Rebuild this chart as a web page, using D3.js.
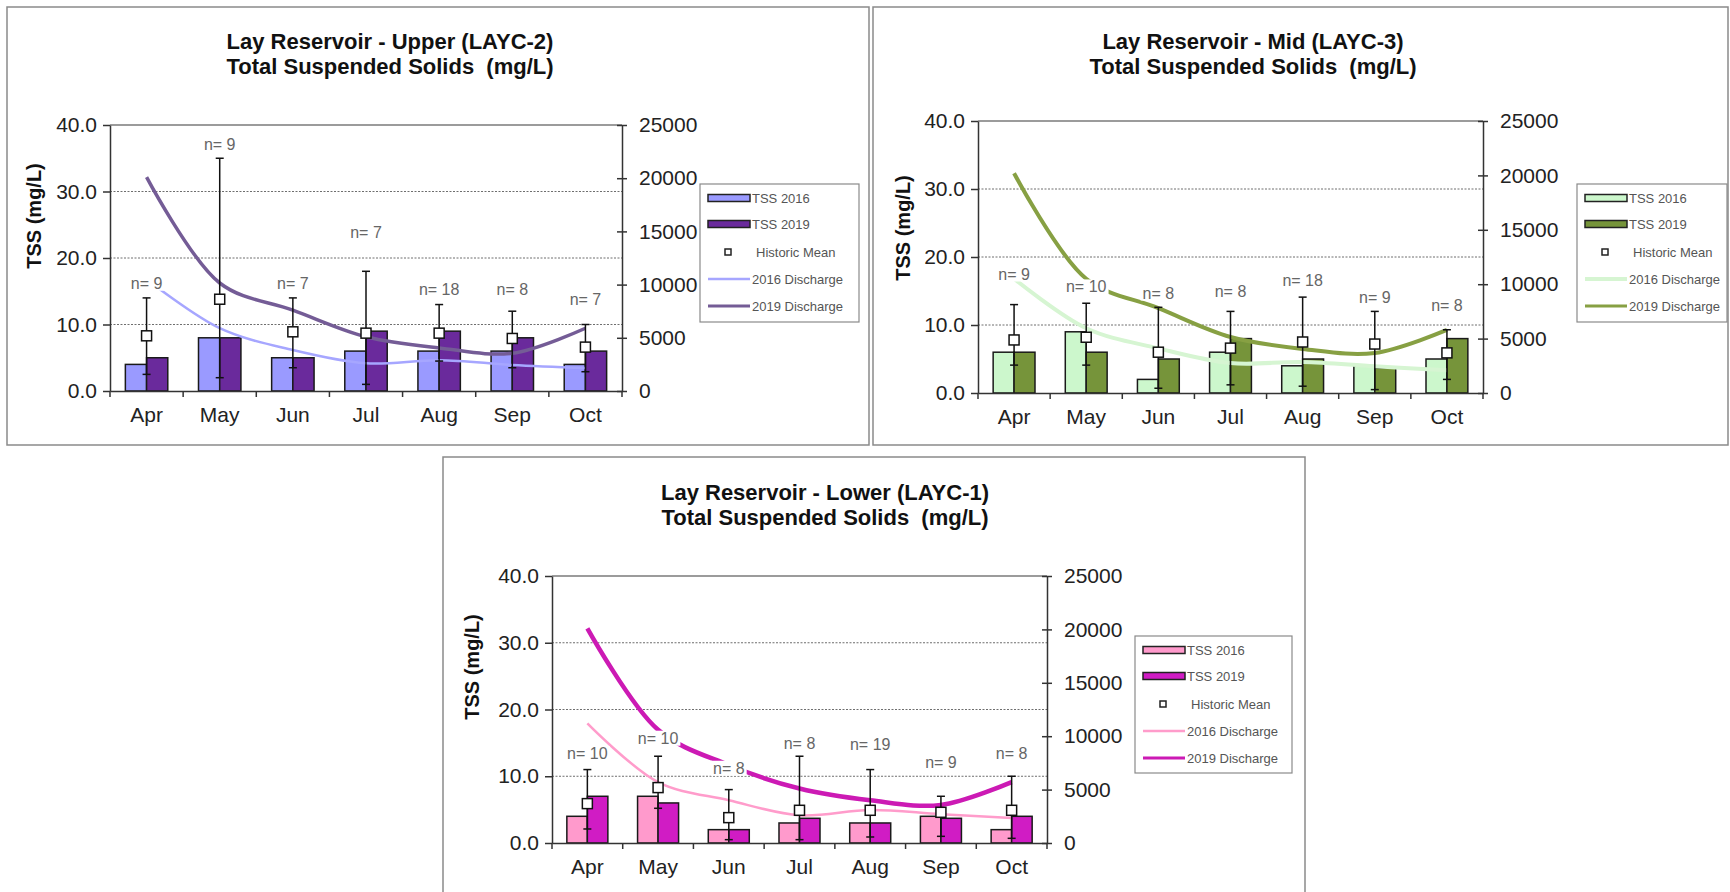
<!DOCTYPE html>
<html>
<head>
<meta charset="utf-8">
<script src="https://cdn.jsdelivr.net/npm/d3@7"></script>
<style>
    body { margin: 0; background: #fff; }
    text { font-family: Arial, "Liberation Sans", sans-serif; }
</style>
</head>
<body>
<div id="chart"></div>
<script>
const months = ["Apr", "May", "Jun", "Jul", "Aug", "Sep", "Oct"];
const leftTicks = [0, 10, 20, 30, 40];
const rightTicks = [0, 5000, 10000, 15000, 20000, 25000];
const legendLabels = ["TSS 2016", "TSS 2019", "Historic Mean", "2016 Discharge", "2019 Discharge"];

// Upper (LAYC-2)
const upperTss2016 = [4, 8, 5, 6, 6, 6, 4];
const upperTss2019 = [5, 8, 5, 9, 9, 8, 6];
const upperMean = [8.3, 13.8, 8.9, 8.7, 8.7, 7.9, 6.6];
const upperHigh = [14, 35, 14, 18, 13, 12, 10];
const upperLow = [2.5, 2, 3.5, 1, 4.5, 3.5, 2.9];
const upperN = [9, 9, 7, 7, 18, 8, 7];
const upperNLevel = [16.2, 37.1, 16.2, 23.9, 15.2, 15.3, 13.8];
const upperQ2016 = [10500, 5900, 3850, 2600, 2900, 2450, 2150];
const upperQ2019 = [20100, 10150, 7600, 5100, 4050, 3550, 5900];

// Mid (LAYC-3)
const midTss2016 = [6, 9, 2, 6, 4, 4, 5];
const midTss2019 = [6, 6, 5, 8, 5, 3.7, 8];
const midMean = [7.8, 8.2, 6, 6.6, 7.5, 7.2, 5.9];
const midHigh = [13, 13.2, 12.6, 12, 14.1, 12, 9.3];
const midLow = [4.1, 4.1, 0.7, 1.2, 1, 0.5, 2];
const midN = [9, 10, 8, 8, 18, 9, 8];
const midNLevel = [17.5, 15.6, 14.7, 15, 16.5, 14.1, 12.8];
const midQ2016 = [10500, 5950, 4100, 2750, 2850, 2450, 2100];
const midQ2019 = [20200, 10500, 7800, 5150, 4050, 3680, 5800];

// Lower (LAYC-1)
const lowerTss2016 = [4, 7, 2, 3, 3, 4, 2];
const lowerTss2019 = [7, 6, 2, 3.7, 3, 3.7, 4];
const lowerMean = [5.9, 8.3, 3.8, 4.9, 4.9, 4.6, 4.9];
const lowerHigh = [11, 13, 8, 13, 11, 7, 10];
const lowerLow = [2.1, 5.2, 0.5, 0.5, 0.9, 1, 0.7];
const lowerN = [10, 10, 8, 8, 19, 9, 8];
const lowerNLevel = [13.4, 15.7, 11.2, 14.9, 14.7, 12.1, 13.4];
const lowerQ2016 = [11200, 5700, 4000, 2600, 3100, 2700, 2350];
const lowerQ2019 = [20100, 10600, 7300, 5100, 4000, 3560, 5700];

const svg = d3.select("#chart")
    .append("svg")
    .attr("width", 1730)
    .attr("height", 892);

function draw(param) {
    const g = svg.append("g");
    const fr = param.frame, p = param.plot;

    g.append("rect")
        .attr("x", fr.x).attr("y", fr.y)
        .attr("width", fr.w).attr("height", fr.h)
        .attr("fill", "#fff")
        .attr("stroke", "#8a8a8a")
        .attr("stroke-width", 1.5);

    // title
    param.title.forEach((t, i) => {
        g.append("text")
            .attr("x", param.titleX)
            .attr("y", param.titleY + i * 25)
            .attr("text-anchor", "middle")
            .attr("font-size", 22)
            .attr("font-weight", "bold")
            .attr("fill", "#111")
            .style("white-space", "pre")
            .text(t);
    });

    g.append("text")
        .attr("transform", "translate(" + param.yLabel[0] + "," + param.yLabel[1] + ") rotate(-90)")
        .attr("text-anchor", "middle")
        .attr("dominant-baseline", "central")
        .attr("font-size", 20)
        .attr("font-weight", "bold")
        .attr("fill", "#111")
        .text("TSS (mg/L)");

    const x = d3.scaleBand().domain(months).range([p.left, p.right]);
    const y = d3.scaleLinear().domain([0, 40]).range([p.bottom, p.top]);
    const yr = d3.scaleLinear().domain([0, 25000]).range([p.bottom, p.top]);
    const bw = x.bandwidth() * 0.29;
    const cx = m => x(m) + x.bandwidth() / 2;

    const rows = months.map((m, i) => ({
        m: m, a: param.tss2016[i], b: param.tss2019[i],
        mean: param.mean[i], hi: param.high[i], lo: param.low[i],
        n: param.n[i], nl: param.nLevel[i],
        q16: param.q2016[i], q19: param.q2019[i]
    }));

    // gridlines
    g.selectAll(".grid").data([10, 20, 30]).enter().append("line")
        .attr("x1", p.left).attr("x2", p.right)
        .attr("y1", d => y(d)).attr("y2", d => y(d))
        .attr("stroke", "#6e6e6e")
        .attr("stroke-dasharray", "2,1.5");
    g.append("line")
        .attr("x1", p.left).attr("x2", p.right)
        .attr("y1", y(40)).attr("y2", y(40))
        .attr("stroke", "#7a7a7a").attr("stroke-width", 1.5);

    // bars
    g.selectAll(".b16").data(rows).enter().append("rect")
        .attr("x", d => cx(d.m) - bw)
        .attr("y", d => y(d.a))
        .attr("width", bw)
        .attr("height", d => y(0) - y(d.a))
        .attr("fill", param.c2016)
        .attr("stroke", "#1a1a1a").attr("stroke-width", 1.5);
    g.selectAll(".b19").data(rows).enter().append("rect")
        .attr("x", d => cx(d.m))
        .attr("y", d => y(d.b))
        .attr("width", bw)
        .attr("height", d => y(0) - y(d.b))
        .attr("fill", param.c2019)
        .attr("stroke", "#1a1a1a").attr("stroke-width", 1.5);

    // discharge lines
    const line16 = d3.line().x(d => cx(d.m)).y(d => yr(d.q16)).curve(d3.curveCatmullRom.alpha(0.5));
    const line19 = d3.line().x(d => cx(d.m)).y(d => yr(d.q19)).curve(d3.curveCatmullRom.alpha(0.5));
    g.append("path").datum(rows)
        .attr("fill", "none")
        .attr("stroke", param.q16Color).attr("stroke-width", param.q16Width)
        .attr("d", line16);
    g.append("path").datum(rows)
        .attr("fill", "none")
        .attr("stroke", param.q19Color).attr("stroke-width", param.q19Width)
        .attr("d", line19);

    // historic mean error bars
    const eb = g.selectAll(".eb").data(rows).enter().append("g");
    eb.append("line")
        .attr("x1", d => cx(d.m)).attr("x2", d => cx(d.m))
        .attr("y1", d => y(d.lo)).attr("y2", d => y(d.hi))
        .attr("stroke", "#111").attr("stroke-width", 1.5);
    eb.append("line")
        .attr("x1", d => cx(d.m) - 4).attr("x2", d => cx(d.m) + 4)
        .attr("y1", d => y(d.hi)).attr("y2", d => y(d.hi))
        .attr("stroke", "#111").attr("stroke-width", 1.5);
    eb.append("line")
        .attr("x1", d => cx(d.m) - 4).attr("x2", d => cx(d.m) + 4)
        .attr("y1", d => y(d.lo)).attr("y2", d => y(d.lo))
        .attr("stroke", "#111").attr("stroke-width", 1.5);
    eb.append("rect")
        .attr("x", d => cx(d.m) - 5)
        .attr("y", d => y(d.mean) - 5)
        .attr("width", 10).attr("height", 10)
        .attr("fill", "#fff")
        .attr("stroke", "#111").attr("stroke-width", 1.5);

    // n= labels, white box behind like excel data labels
    rows.forEach(d => {
        const lg = g.append("g");
        const t = lg.append("text")
            .attr("x", cx(d.m))
            .attr("y", y(d.nl))
            .attr("text-anchor", "middle")
            .attr("dominant-baseline", "central")
            .attr("font-size", 16)
            .attr("fill", "#666")
            .text("n= " + d.n);
        const bb = t.node().getBBox();
        lg.insert("rect", "text")
            .attr("x", bb.x - 2).attr("y", bb.y + 1)
            .attr("width", bb.width + 4).attr("height", bb.height - 2)
            .attr("fill", "#fff");
    });

    // axes
    const ax = g.append("g")
        .attr("transform", "translate(" + p.left + ",0)")
        .call(d3.axisLeft(y)
            .tickValues(leftTicks)
            .tickFormat(d3.format(".1f"))
            .tickSizeInner(7)
            .tickSizeOuter(0)
            .tickPadding(6));
    const ar = g.append("g")
        .attr("transform", "translate(" + p.right + ",0)")
        .call(d3.axisRight(yr)
            .tickValues(rightTicks)
            .tickFormat(d3.format("d"))
            .tickSizeInner(5)
            .tickSizeOuter(0)
            .tickPadding(12));
    ar.selectAll(".tick line").attr("x1", -5);
    const ab = g.append("g")
        .attr("transform", "translate(0," + p.bottom + ")")
        .call(d3.axisBottom(x)
            .tickSizeInner(0)
            .tickSizeOuter(0)
            .tickPadding(16));
    ab.selectAll(".bt").data(months.map(m => x(m)).concat([p.right])).enter().append("line")
        .attr("x1", d => d).attr("x2", d => d)
        .attr("y1", 0).attr("y2", 6)
        .attr("stroke", "#333").attr("stroke-width", 1.5);

    [ax, ar, ab].forEach(a => {
        a.selectAll(".domain").attr("stroke", "#333").attr("stroke-width", 1.5);
        a.selectAll(".tick line").attr("stroke", "#333").attr("stroke-width", 1.5);
        a.selectAll("text")
            .attr("font-size", 21)
            .attr("fill", "#222")
            .attr("font-family", "Arial, 'Liberation Sans', sans-serif");
    });

    // legend
    const lgd = param.legend;
    const lg = g.append("g").attr("transform", "translate(" + lgd.x + "," + lgd.y + ")");
    lg.append("rect")
        .attr("width", lgd.w).attr("height", lgd.h)
        .attr("fill", "#fff")
        .attr("stroke", "#8a8a8a").attr("stroke-width", 1.2);
    const rowY = [14, 40, 68, 95, 122];
    legendLabels.forEach((lab, i) => {
        const ry = rowY[i];
        if (i < 2) {
            lg.append("rect")
                .attr("x", 8).attr("y", ry - 3.5)
                .attr("width", 42).attr("height", 7)
                .attr("fill", i === 0 ? param.c2016 : param.c2019)
                .attr("stroke", "#222").attr("stroke-width", 1.5);
        } else if (i === 2) {
            lg.append("rect")
                .attr("x", 25).attr("y", ry - 3)
                .attr("width", 6).attr("height", 6)
                .attr("fill", "#fff")
                .attr("stroke", "#222").attr("stroke-width", 1.5);
        } else {
            lg.append("line")
                .attr("x1", 8).attr("x2", 50)
                .attr("y1", ry).attr("y2", ry)
                .attr("stroke", i === 3 ? param.q16Color : param.q19Color)
                .attr("stroke-width", i === 3 ? param.q16Width : Math.min(param.q19Width, 3));
        }
        lg.append("text")
            .attr("x", i === 2 ? 56 : 52)
            .attr("y", ry)
            .attr("dominant-baseline", "central")
            .attr("font-size", 13)
            .attr("fill", "#555")
            .text(lab);
    });
}

function refresh() {
    svg.selectAll("*").remove();
    draw({
        frame: {x: 7, y: 7, w: 862, h: 438},
        plot: {left: 110, right: 622, top: 125, bottom: 391},
        title: ["Lay Reservoir - Upper (LAYC-2)", "Total Suspended Solids  (mg/L)"],
        titleX: 390, titleY: 49,
        yLabel: [34, 216],
        legend: {x: 700, y: 184, w: 159, h: 138},
        tss2016: upperTss2016, tss2019: upperTss2019,
        mean: upperMean, high: upperHigh, low: upperLow,
        n: upperN, nLevel: upperNLevel,
        q2016: upperQ2016, q2019: upperQ2019,
        c2016: "#9a9aff", c2019: "#6a2a9c",
        q16Color: "#a6a6ff", q16Width: 2.5,
        q19Color: "#745c96", q19Width: 3.5
    });
    draw({
        frame: {x: 873, y: 7, w: 855, h: 438},
        plot: {left: 978, right: 1483, top: 121, bottom: 393},
        title: ["Lay Reservoir - Mid (LAYC-3)", "Total Suspended Solids  (mg/L)"],
        titleX: 1253, titleY: 49,
        yLabel: [903, 228],
        legend: {x: 1577, y: 184, w: 150, h: 138},
        tss2016: midTss2016, tss2019: midTss2019,
        mean: midMean, high: midHigh, low: midLow,
        n: midN, nLevel: midNLevel,
        q2016: midQ2016, q2019: midQ2019,
        c2016: "#ccf7cc", c2019: "#76943a",
        q16Color: "#d6f5d2", q16Width: 4,
        q19Color: "#87a043", q19Width: 4
    });
    draw({
        frame: {x: 443, y: 457, w: 862, h: 445},
        plot: {left: 552, right: 1047, top: 576, bottom: 843},
        title: ["Lay Reservoir - Lower (LAYC-1)", "Total Suspended Solids  (mg/L)"],
        titleX: 825, titleY: 500,
        yLabel: [472, 667],
        legend: {x: 1135, y: 636, w: 157, h: 137},
        tss2016: lowerTss2016, tss2019: lowerTss2019,
        mean: lowerMean, high: lowerHigh, low: lowerLow,
        n: lowerN, nLevel: lowerNLevel,
        q2016: lowerQ2016, q2019: lowerQ2019,
        c2016: "#ff9acc", c2019: "#d01cc4",
        q16Color: "#ff9ccb", q16Width: 2.5,
        q19Color: "#cc1ab4", q19Width: 4.5
    });
}

refresh();
</script>
</body>
</html>
